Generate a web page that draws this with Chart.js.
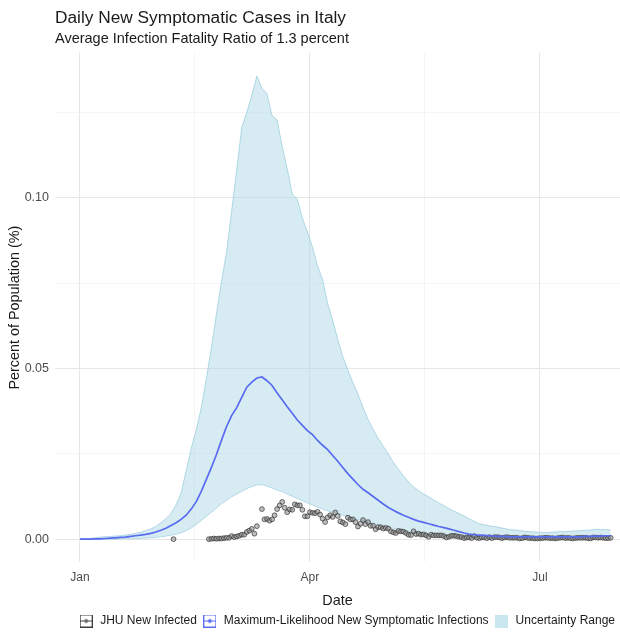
<!DOCTYPE html>
<html>
<head>
<meta charset="utf-8">
<script src="https://cdn.jsdelivr.net/npm/chart.js@4/dist/chart.umd.min.js"></script>
<style>
  html, body { margin: 0; padding: 0; background: #ffffff; }
  canvas { display: block; }
</style>
</head>
<body>
<canvas id="chart" width="620" height="637"></canvas>
<script>
// Days counted from 1 January 2020.
const bandDays = [0,2,4,6,8,10,12,14,16,18,20,22,24,26,28,30,32,34,36,38,40,42,44,46,48,50,52,54,56,58,60,62,64,66,68,70,72,74,76,78,80,82,84,86,88,90,92,94,96,98,100,102,104,106,108,110,112,114,116,118,120,122,124,126,128,130,132,134,136,138,140,142,144,146,148,150,152,154,156,158,160,162,164,166,168,170,172,174,176,178,180,182,184,186,188,190,192,194,196,198,200,202,204,206,208,210];

// Upper edge of the uncertainty range (percent of population).
const upperBand = [0.0000,0.0001,0.0002,0.0004,0.0006,0.0007,0.0008,0.0009,0.0010,0.0012,0.0014,0.0017,0.0020,0.0025,0.0030,0.0037,0.0048,0.0060,0.0075,0.0100,0.0135,0.0200,0.0265,0.0320,0.0385,0.0470,0.0560,0.0660,0.0755,0.0840,0.0960,0.1080,0.1205,0.1250,0.1300,0.1356,0.1320,0.1305,0.1240,0.1228,0.1150,0.1085,0.1010,0.0995,0.0940,0.0900,0.0855,0.0800,0.0760,0.0690,0.0640,0.0585,0.0535,0.0495,0.0458,0.0425,0.0385,0.0350,0.0322,0.0295,0.0272,0.0250,0.0225,0.0205,0.0185,0.0168,0.0153,0.0142,0.0132,0.0124,0.0115,0.0106,0.0098,0.0090,0.0082,0.0075,0.0068,0.0060,0.0052,0.0045,0.0042,0.0039,0.0037,0.0034,0.0031,0.0028,0.0027,0.0025,0.0023,0.0022,0.0021,0.0020,0.0019,0.0020,0.0021,0.0022,0.0022,0.0023,0.0024,0.0025,0.0026,0.0027,0.0029,0.0028,0.0028,0.0027];

// Lower edge of the uncertainty range.
const lowerBand = [0.0000,0.0000,0.0000,0.0000,0.0000,0.0000,0.0000,0.0000,0.0001,0.0001,0.0001,0.0002,0.0002,0.0003,0.0004,0.0005,0.0007,0.0009,0.0012,0.0015,0.0019,0.0025,0.0033,0.0043,0.0055,0.0067,0.0079,0.0091,0.0104,0.0114,0.0124,0.0132,0.0140,0.0148,0.0154,0.0159,0.0160,0.0155,0.0150,0.0144,0.0139,0.0132,0.0126,0.0119,0.0113,0.0106,0.0100,0.0094,0.0088,0.0083,0.0079,0.0075,0.0070,0.0066,0.0061,0.0057,0.0053,0.0050,0.0047,0.0043,0.0039,0.0036,0.0032,0.0028,0.0025,0.0022,0.0019,0.0017,0.0015,0.0013,0.0011,0.0010,0.0009,0.0008,0.0007,0.0006,0.0005,0.0005,0.0004,0.0004,0.0004,0.0004,0.0004,0.0004,0.0004,0.0004,0.0004,0.0004,0.0004,0.0004,0.0004,0.0004,0.0004,0.0004,0.0004,0.0004,0.0004,0.0004,0.0004,0.0004,0.0005,0.0005,0.0005,0.0005,0.0005,0.0005];

// Maximum-likelihood estimate of new symptomatic infections.
const mlLine = [0.0000,0.0000,0.0000,0.0001,0.0001,0.0002,0.0003,0.0004,0.0005,0.0006,0.0008,0.0010,0.0012,0.0014,0.0017,0.0021,0.0026,0.0032,0.0040,0.0048,0.0058,0.0070,0.0088,0.0110,0.0140,0.0175,0.0210,0.0248,0.0290,0.0330,0.0362,0.0385,0.0415,0.0445,0.0460,0.0472,0.0475,0.0464,0.0450,0.0428,0.0408,0.0388,0.0369,0.0349,0.0333,0.0318,0.0306,0.0289,0.0275,0.0262,0.0245,0.0228,0.0210,0.0192,0.0176,0.0160,0.0146,0.0136,0.0125,0.0114,0.0103,0.0093,0.0085,0.0077,0.0070,0.0064,0.0058,0.0053,0.0049,0.0045,0.0041,0.0037,0.0034,0.0030,0.0026,0.0022,0.0018,0.0015,0.0013,0.0012,0.0011,0.0010,0.0009,0.0008,0.0008,0.0007,0.0007,0.0007,0.0007,0.0007,0.0007,0.0007,0.0007,0.0007,0.0007,0.0007,0.0007,0.0007,0.0007,0.0007,0.0008,0.0008,0.0009,0.0009,0.0010,0.0010];

// JHU daily new confirmed cases, as percent of population.
const jhuDays = [37,51,52,53,54,55,56,57,58,59,60,61,62,63,64,65,66,67,68,69,70,72,73,74,75,76,77,78,79,80,81,82,83,84,85,86,87,88,89,90,91,92,93,94,95,96,97,98,99,100,101,102,103,104,105,106,107,108,109,110,111,112,113,114,115,116,117,118,119,120,121,122,123,124,125,126,127,128,129,130,131,132,133,134,135,136,137,138,139,140,141,142,143,144,145,146,147,148,149,150,151,152,153,154,155,156,157,158,159,160,161,162,163,164,165,166,167,168,169,170,171,172,173,174,175,176,177,178,179,180,181,182,183,184,185,186,187,188,189,190,191,192,193,194,195,196,197,198,199,200,201,202,203,204,205,206,207,208,209,210];
const jhuValues = [0.0000,0.0000,0.0001,0.0002,0.0001,0.0002,0.0002,0.0003,0.0004,0.0004,0.0009,0.0006,0.0008,0.0010,0.0013,0.0013,0.0021,0.0025,0.0030,0.0016,0.0038,0.0088,0.0058,0.0059,0.0054,0.0058,0.0070,0.0088,0.0099,0.0109,0.0092,0.0079,0.0087,0.0086,0.0102,0.0099,0.0099,0.0086,0.0067,0.0067,0.0079,0.0077,0.0076,0.0080,0.0072,0.0060,0.0050,0.0064,0.0070,0.0065,0.0078,0.0068,0.0052,0.0049,0.0044,0.0063,0.0058,0.0058,0.0050,0.0037,0.0045,0.0056,0.0044,0.0050,0.0039,0.0039,0.0029,0.0035,0.0035,0.0031,0.0033,0.0031,0.0023,0.0020,0.0018,0.0024,0.0023,0.0022,0.0018,0.0013,0.0012,0.0023,0.0015,0.0016,0.0013,0.0014,0.0011,0.0007,0.0013,0.0011,0.0011,0.0011,0.0011,0.0009,0.0005,0.0007,0.0010,0.0010,0.0009,0.0007,0.0006,0.0003,0.0005,0.0005,0.0003,0.0009,0.0004,0.0003,0.0005,0.0005,0.0003,0.0006,0.0003,0.0006,0.0006,0.0005,0.0003,0.0005,0.0006,0.0004,0.0004,0.0004,0.0004,0.0002,0.0003,0.0005,0.0004,0.0003,0.0003,0.0002,0.0002,0.0003,0.0003,0.0004,0.0004,0.0003,0.0003,0.0002,0.0003,0.0004,0.0005,0.0003,0.0004,0.0003,0.0002,0.0003,0.0004,0.0004,0.0004,0.0004,0.0003,0.0002,0.0005,0.0005,0.0004,0.0005,0.0004,0.0003,0.0003,0.0004];

// Axis ticks.
const monthTickDays = [0, 91, 182];
const monthTickLabels = ['Jan', 'Apr', 'Jul'];
const midMonthDays = [45.5, 136.5];
const yTickValues = [0, 0.05, 0.10];
const yTickLabels = ['0.00', '0.05', '0.10'];
const yMinorValues = [0.025, 0.075, 0.125];

const legendLabels = ['JHU New Infected', 'Maximum-Likelihood New Symptomatic Infections', 'Uncertainty Range'];

const lineBlue = '#5a6bf2';
const bandFill = 'rgba(173, 216, 230, 0.5)';
const bandEdge = 'rgba(150, 204, 222, 0.9)';
const pointEdge = 'rgba(45, 45, 45, 0.85)';
const pointFill = 'rgba(140, 140, 140, 0.55)';

Chart.defaults.font.family = '"Liberation Sans", Arial, Helvetica, sans-serif';
Chart.defaults.color = '#4d4d4d';

const toPoints = (xs, ys) => xs.map((x, i) => ({ x: x, y: ys[i] }));

// Small legend key glyphs.
function legendKey(kind) {
  const c = document.createElement('canvas');
  c.width = 13; c.height = 13;
  const g = c.getContext('2d');
  if (kind === 'band') {
    g.fillStyle = 'rgba(173, 216, 230, 0.65)';
    g.fillRect(0, 0, 13, 13);
  } else {
    const col = kind === 'jhu' ? '#3c3c3c' : lineBlue;
    g.strokeStyle = col;
    g.lineWidth = 1;
    g.strokeRect(0.5, 0.5, 12, 12);
    g.beginPath(); g.moveTo(1, 6.5); g.lineTo(12, 6.5); g.stroke();
    g.fillStyle = kind === 'jhu' ? '#666' : lineBlue;
    g.beginPath(); g.arc(6.5, 6.5, 2, 0, Math.PI * 2); g.fill();
  }
  return c;
}
const legendIcons = [legendKey('jhu'), legendKey('ml'), legendKey('band')];

const xGridDays = [monthTickDays[0], midMonthDays[0], monthTickDays[1], midMonthDays[1], monthTickDays[2]];
const yGridValues = [yTickValues[0], yMinorValues[0], yTickValues[1], yMinorValues[1], yTickValues[2], yMinorValues[2]];

new Chart(document.getElementById('chart'), {
  type: 'line',
  data: {
    datasets: [
      {
        label: 'Uncertainty Range',
        data: toPoints(bandDays, upperBand),
        fill: 1,
        backgroundColor: bandFill,
        borderColor: bandEdge,
        borderWidth: 0.8,
        pointRadius: 0,
        tension: 0,
        order: 3
      },
      {
        label: 'lower',
        data: toPoints(bandDays, lowerBand),
        fill: false,
        borderColor: bandEdge,
        borderWidth: 0.8,
        pointRadius: 0,
        tension: 0,
        order: 3
      },
      {
        label: 'JHU New Infected',
        type: 'scatter',
        data: toPoints(jhuDays, jhuValues),
        pointRadius: 2.4,
        pointBackgroundColor: pointFill,
        pointBorderColor: pointEdge,
        pointBorderWidth: 0.8,
        order: 2
      },
      {
        label: 'Maximum-Likelihood New Symptomatic Infections',
        data: toPoints(bandDays, mlLine),
        fill: false,
        borderColor: lineBlue,
        borderWidth: 1.7,
        pointRadius: 0,
        tension: 0,
        order: 1
      }
    ]
  },
  options: {
    responsive: false,
    animation: false,
    devicePixelRatio: 1,
    layout: { autoPadding: false, padding: { left: 0, right: 0, top: 0, bottom: 0 } },
    plugins: {
      tooltip: { enabled: false },
      title: {
        display: true,
        text: 'Daily New Symptomatic Cases in Italy',
        align: 'start',
        fullSize: false,
        color: '#1a1a1a',
        font: { size: 17.3, weight: 'normal' },
        padding: { top: 7.5, bottom: 1 }
      },
      subtitle: {
        display: true,
        text: 'Average Infection Fatality Ratio of 1.3 percent',
        align: 'start',
        fullSize: false,
        color: '#1a1a1a',
        font: { size: 14.5, weight: 'normal' },
        padding: { top: 1, bottom: 5.2 }
      },
      legend: {
        display: true,
        position: 'bottom',
        align: 'end',
        fullSize: false,
        labels: {
          usePointStyle: true,
          pointStyleWidth: 16,
          boxHeight: 13,
          padding: 5,
          color: '#1a1a1a',
          font: { size: 12 },
          generateLabels: () => legendLabels.map((t, i) => ({
            text: t,
            pointStyle: legendIcons[i],
            fillStyle: 'rgba(0,0,0,0)',
            strokeStyle: 'rgba(0,0,0,0)',
            lineWidth: 0,
            hidden: false,
            fontColor: '#1a1a1a'
          }))
        }
      }
    },
    scales: {
      x: {
        type: 'linear',
        min: -9.9,
        max: 213.7,
        afterBuildTicks: s => { s.ticks = xGridDays.map(v => ({ value: v })); },
        ticks: {
          autoSkip: false,
          maxRotation: 0,
          padding: 8,
          color: '#4d4d4d',
          font: { size: 12 },
          callback: v => {
            const i = monthTickDays.indexOf(v);
            return i >= 0 ? monthTickLabels[i] : '';
          }
        },
        grid: {
          drawTicks: false,
          color: c => monthTickDays.includes(c.tick.value) ? '#e6e6e6' : '#f0f0f0',
          lineWidth: c => monthTickDays.includes(c.tick.value) ? 1.1 : 0.7
        },
        border: { display: false },
        title: {
          display: true,
          text: 'Date',
          color: '#1a1a1a',
          font: { size: 14.4 },
          padding: { top: 0, bottom: 0 }
        }
      },
      y: {
        type: 'linear',
        min: -0.00678,
        max: 0.1424,
        afterBuildTicks: s => { s.ticks = yGridValues.map(v => ({ value: v })); },
        afterFit: s => { s.width = 55; },
        ticks: {
          padding: 6,
          color: '#4d4d4d',
          font: { size: 12.5 },
          callback: v => {
            const i = yTickValues.indexOf(v);
            return i >= 0 ? yTickLabels[i] : '';
          }
        },
        grid: {
          drawTicks: false,
          color: c => yTickValues.includes(c.tick.value) ? '#e6e6e6' : '#f0f0f0',
          lineWidth: c => yTickValues.includes(c.tick.value) ? 1.1 : 0.7
        },
        border: { display: false },
        title: {
          display: true,
          text: 'Percent of Population (%)',
          color: '#1a1a1a',
          font: { size: 14.4 },
          padding: { top: 6, bottom: 0 }
        }
      }
    }
  }
});
</script>
</body>
</html>
